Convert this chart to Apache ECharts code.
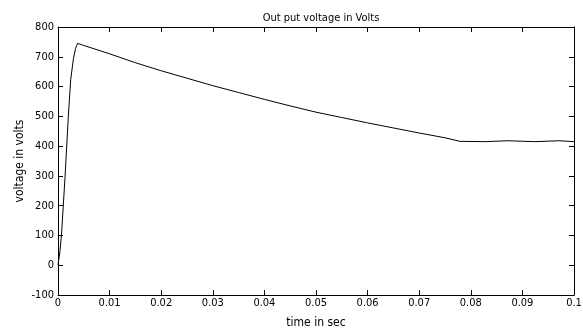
<!DOCTYPE html>
<html>
<head>
<meta charset="utf-8">
<script src="https://cdn.jsdelivr.net/npm/echarts@6/dist/echarts.min.js"></script>
<style>
  html, body { margin: 0; padding: 0; background: #fff; }
  #chart { width: 583px; height: 328px; }
</style>
</head>
<body>
<div id="chart"></div>
<script>
// time (s) and output voltage (V)
const timeSec = [
  0, 0.0004, 0.0007, 0.00136, 0.002, 0.00246, 0.003, 0.0034, 0.0038,
  0.005, 0.01, 0.015, 0.02, 0.025, 0.03, 0.035, 0.04, 0.045, 0.05,
  0.055, 0.06, 0.065, 0.07, 0.075, 0.0779,
  0.0828, 0.0829, 0.0872, 0.0873, 0.0924, 0.0925, 0.0971, 0.0972, 0.1
];
const voltage = [
  0, 50, 108, 296, 500, 623, 695, 728, 745,
  738, 710, 680, 653, 628, 603, 580, 557, 535, 514,
  496, 478, 461, 444, 428, 416,
  415, 418, 418, 415, 415, 418, 418, 415, 415
];

const chart = echarts.init(document.getElementById("chart"));
const font = "'Liberation Sans Narrow', 'DejaVu Sans Condensed', 'Liberation Sans', Arial, sans-serif";
const axisLine = { show: true, onZero: false, lineStyle: { color: "#000", width: 1 } };
const tick = { show: true, inside: true, length: 5, lineStyle: { color: "#000" } };

const option = {
  animation: false,
  backgroundColor: "#fff",
  title: {
    text: "Out put voltage in Volts",
    left: 316,
    top: 8,
    textAlign: "center",
    textStyle: { fontFamily: font, fontSize: 11, fontWeight: "normal", color: "#000" }
  },
  grid: { left: 58, right: 9, top: 27, bottom: 33, containLabel: false, outerBoundsMode: "none" },
  xAxis: [
    {
      type: "value",
      min: 0, max: 0.1, interval: 0.01,
      name: "time in sec",
      nameLocation: "middle",
      nameGap: 22,
      nameMoveOverlap: false,
      nameTextStyle: { fontFamily: font, fontSize: 12, color: "#000" },
      axisLine, axisTick: tick,
      splitLine: { show: false },
      axisLabel: {
        fontFamily: font, fontSize: 11, color: "#000", margin: 3,
        formatter: v => String(parseFloat(v.toFixed(2)))
      }
    },
    {
      type: "value", position: "top",
      min: 0, max: 0.1, interval: 0.01,
      axisLine, axisTick: tick,
      splitLine: { show: false },
      axisLabel: { show: false }
    }
  ],
  yAxis: [
    {
      type: "value",
      min: -100, max: 800, interval: 100,
      name: "voltage in volts",
      nameLocation: "middle",
      nameGap: 32,
      nameMoveOverlap: false,
      nameTextStyle: { fontFamily: font, fontSize: 12, color: "#000" },
      axisLine, axisTick: tick,
      splitLine: { show: false },
      axisLabel: { fontFamily: font, fontSize: 11, color: "#000", margin: 4 }
    },
    {
      type: "value", position: "right",
      min: -100, max: 800, interval: 100,
      axisLine, axisTick: tick,
      splitLine: { show: false },
      axisLabel: { show: false }
    }
  ],
  series: [
    {
      type: "line",
      data: timeSec.map((t, i) => [t, voltage[i]]),
      showSymbol: false,
      lineStyle: { color: "#000", width: 1 }
    }
  ]
};

chart.setOption(option);
</script>
</body>
</html>
